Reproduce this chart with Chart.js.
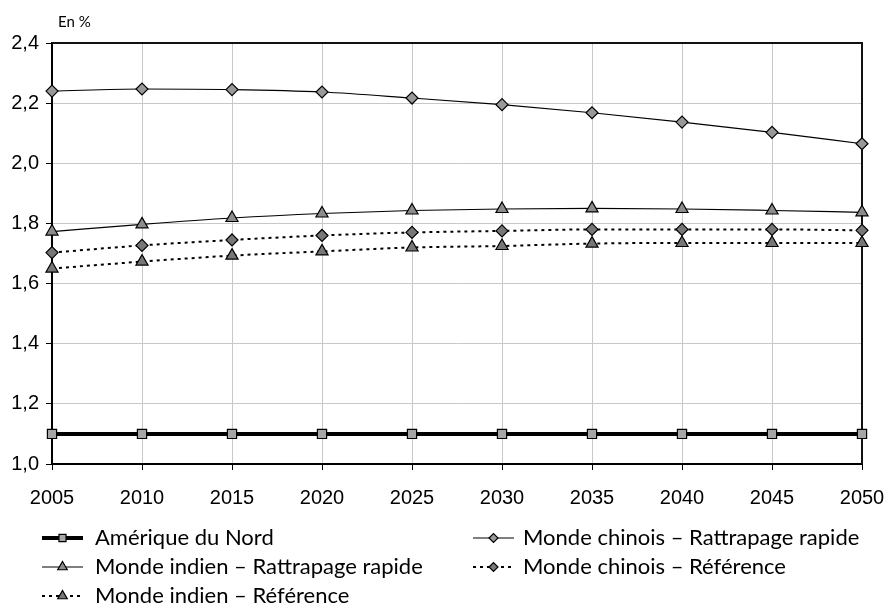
<!DOCTYPE html>
<html>
<head>
<meta charset="utf-8">
<script src="https://cdn.jsdelivr.net/npm/chart.js@4"></script>
<style>
  html, body { margin: 0; padding: 0; background: #fff; }
  #wrap { width: 885px; height: 603px; position: relative; }
</style>
</head>
<body>
<div id="wrap"><canvas id="graph" width="885" height="603"></canvas></div>
<script>
// données (en %)
const annees = ['2005', '2010', '2015', '2020', '2025', '2030', '2035', '2040', '2045', '2050'];
const ameriqueNord = [1.1, 1.1, 1.1, 1.1, 1.1, 1.1, 1.1, 1.1, 1.1, 1.1];
const chinoisRapide = [2.24, 2.247, 2.245, 2.237, 2.217, 2.195, 2.168, 2.137, 2.103, 2.065];
const indienRapide = [1.773, 1.797, 1.818, 1.833, 1.843, 1.848, 1.85, 1.848, 1.843, 1.837];
const chinoisRef = [1.703, 1.727, 1.745, 1.76, 1.77, 1.775, 1.78, 1.78, 1.78, 1.777];
const indienRef = [1.65, 1.673, 1.693, 1.707, 1.72, 1.725, 1.733, 1.735, 1.735, 1.735];
const yTicks = [1.0, 1.2, 1.4, 1.6, 1.8, 2.0, 2.2, 2.4];

const POLICE_LEG = 'Lato, "Open Sans", sans-serif';

// ordre de la légende : colonne gauche puis colonne droite
const series = [
    { label: 'Amérique du Nord', data: ameriqueNord, style: 'rect', w: 4, dash: [], fill: '#a6a6a6', r: 6.5, col: 0, row: 0 },
    { label: 'Monde indien – Rattrapage rapide', data: indienRapide, style: 'triangle', w: 1.2, dash: [], fill: '#8c8c8c', r: 7, col: 0, row: 1 },
    { label: 'Monde indien – Référence', data: indienRef, style: 'triangle', w: 2, dash: [3, 4], fill: '#777', r: 7, col: 0, row: 2 },
    { label: 'Monde chinois – Rattrapage rapide', data: chinoisRapide, style: 'rectRot', w: 1.2, dash: [], fill: '#999', r: 6, col: 1, row: 0 },
    { label: 'Monde chinois – Référence', data: chinoisRef, style: 'rectRot', w: 2, dash: [3, 4], fill: '#777', r: 6, col: 1, row: 1 }
];

// cadre haut/droit + texte "En %"
const cadre = {
    id: 'cadre',
    beforeDatasetsDraw(chart) {
        const { ctx, chartArea: a } = chart;
        ctx.save();
        ctx.strokeStyle = '#111';
        ctx.lineWidth = 2;
        ctx.beginPath();
        ctx.moveTo(a.left, a.top);
        ctx.lineTo(a.right, a.top);
        ctx.lineTo(a.right, a.bottom);
        ctx.stroke();
        ctx.restore();
    },
    afterDraw(chart) {
        const { ctx } = chart;
        ctx.save();
        ctx.fillStyle = '#000';
        ctx.font = '15px ' + POLICE_LEG;
        ctx.textBaseline = 'middle';
        ctx.fillText('En %', 58, 22);
        ctx.restore();
    }
};

// légende en deux colonnes
const legende = {
    id: 'legende',
    afterDraw(chart) {
        const { ctx } = chart;
        const colX = [42, 473];
        const texteX = [95, 523];
        const rowY = [538, 567, 596];
        ctx.save();
        chart.data.datasets.forEach(ds => {
            const x0 = colX[ds.col], y = rowY[ds.row];
            ctx.strokeStyle = '#000';
            ctx.lineWidth = ds.borderWidth;
            ctx.setLineDash(ds.borderDash);
            ctx.beginPath();
            ctx.moveTo(x0, y);
            ctx.lineTo(x0 + 41, y);
            ctx.stroke();
            ctx.setLineDash([]);
            ctx.fillStyle = ds.pointBackgroundColor;
            ctx.strokeStyle = '#000';
            ctx.lineWidth = 1.2;
            Chart.helpers.drawPoint(ctx, {
                pointStyle: ds.pointStyle,
                radius: ds.pointRadius - 1.5,
                borderWidth: 1.2
            }, x0 + 20.5, y);
            ctx.fillStyle = '#000';
            ctx.font = '22px ' + POLICE_LEG;
            ctx.textBaseline = 'middle';
            ctx.fillText(ds.label, texteX[ds.col], y);
        });
        ctx.restore();
    }
};

new Chart(document.getElementById('graph'), {
    type: 'line',
    data: {
        labels: annees,
        datasets: series.map(s => ({
            label: s.label,
            data: s.data,
            borderColor: '#000',
            borderWidth: s.w,
            borderDash: s.dash,
            pointStyle: s.style,
            pointRadius: s.r,
            pointHoverRadius: s.r,
            pointBackgroundColor: s.fill,
            pointBorderColor: '#000',
            pointBorderWidth: 1.2,
            cubicInterpolationMode: 'monotone',
            clip: false,
            col: s.col,
            row: s.row
        })).reverse()
    },
    options: {
        responsive: false,
        animation: false,
        devicePixelRatio: 1,
        layout: { padding: { left: 0, right: 23, top: 43, bottom: 84 } },
        plugins: { legend: { display: false }, tooltip: { enabled: false } },
        scales: {
            x: {
                offset: false,
                grid: { color: '#c8c8c8', lineWidth: 1, tickLength: 6, tickColor: '#000', drawTicks: true },
                border: { color: '#000', width: 2 },
                ticks: { color: '#000', font: { family: '"Liberation Sans", Arial, sans-serif', size: 20 }, padding: 16, maxRotation: 0 },
                afterFit(scale) {
                    scale.height = 55;
                    scale.paddingLeft = 0;
                    scale.paddingRight = 0;
                }
            },
            y: {
                min: 1.0,
                max: 2.4,
                afterBuildTicks(scale) { scale.ticks = yTicks.map(v => ({ value: v })); },
                grid: { color: '#c8c8c8', lineWidth: 1, tickLength: 6, tickColor: '#000' },
                border: { color: '#000', width: 2 },
                ticks: {
                    color: '#000',
                    font: { family: '"Liberation Sans", Arial, sans-serif', size: 20 },
                    padding: 7,
                    callback: v => v.toFixed(1).replace('.', ',')
                },
                afterFit(scale) {
                    scale.width = 52;
                    scale.paddingTop = 0;
                    scale.paddingBottom = 0;
                }
            }
        }
    },
    plugins: [cadre, legende]
});
</script>
</body>
</html>
